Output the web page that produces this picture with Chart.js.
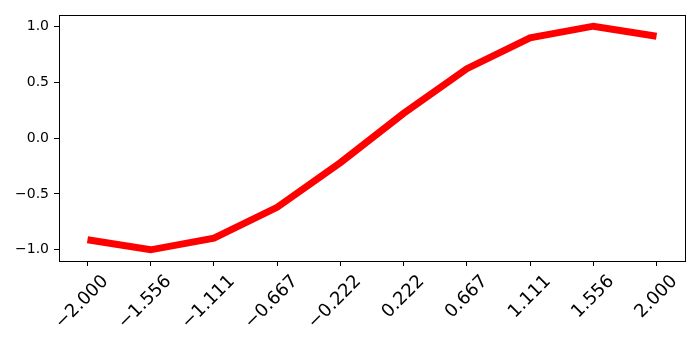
<!DOCTYPE html>
<html>
<head>
<meta charset="utf-8">
<script src="https://cdn.jsdelivr.net/npm/chart.js@4/dist/chart.umd.min.js"></script>
<style>
  html, body { margin: 0; padding: 0; background: #fff; }
  #wrap { width: 700px; height: 350px; }
</style>
</head>
<body>
<div id="wrap"><canvas id="chart" width="700" height="350"></canvas></div>
<script>
(function () {
  "use strict";

  const xVals = [-2.0, -1.556, -1.111, -0.667, -0.222, 0.222, 0.667, 1.111, 1.556, 2.0];
  const yVals = [-0.91, -1.0, -0.895, -0.62, -0.22, 0.22, 0.62, 0.895, 1.0, 0.91];
  const xTickLabels = ["−2.000", "−1.556", "−1.111", "−0.667", "−0.222", "0.222", "0.667", "1.111", "1.556", "2.000"];
  const yTicks = [-1.0, -0.5, 0.0, 0.5, 1.0];

  // full box round the plot area, like the matplotlib spines
  const frame = {
    id: "frame",
    afterDraw(chart) {
      const a = chart.chartArea;
      const ctx = chart.ctx;
      ctx.save();
      ctx.strokeStyle = "#000";
      ctx.lineWidth = 1;
      ctx.strokeRect(Math.round(a.left) + 0.5, Math.round(a.top) + 0.5,
        Math.round(a.right - a.left), Math.round(a.bottom - a.top));
      ctx.restore();
    },
  };

  const ctx = document.getElementById("chart").getContext("2d");
  new Chart(ctx, {
    type: "line",
    data: {
      datasets: [
        {
          data: xVals.map((x, i) => ({ x: x, y: yVals[i] })),
          borderColor: "#ff0000",
          borderWidth: 7,
          pointRadius: 0,
          tension: 0,
          fill: false,
        },
      ],
    },
    options: {
      responsive: false,
      animation: false,
      layout: { padding: { top: 15, right: 15, left: 0, bottom: 0 } },
      plugins: { legend: { display: false }, tooltip: { enabled: false } },
      scales: {
        x: {
          type: "linear",
          min: -2.2,
          max: 2.2,
          afterBuildTicks: (axis) => {
            axis.ticks = xVals.map((v) => ({ value: v }));
          },
          afterFit: (axis) => {
            axis.height = 89;
          },
          ticks: {
            autoSkip: false,
            maxRotation: 45,
            minRotation: 45,
            padding: 5,
            labelOffset: 18,
            color: "#000",
            font: { family: "DejaVu Sans", size: 18 },
            callback: (v, i) => xTickLabels[i],
          },
          grid: {
            drawOnChartArea: false,
            drawTicks: true,
            tickLength: 5,
            tickColor: "#000",
          },
          border: { color: "#000", width: 1 },
        },
        y: {
          min: -1.1,
          max: 1.1,
          afterBuildTicks: (axis) => {
            axis.ticks = yTicks.map((v) => ({ value: v }));
          },
          afterFit: (axis) => {
            axis.width = 59;
          },
          ticks: {
            padding: 5,
            color: "#000",
            font: { family: "DejaVu Sans", size: 14 },
            callback: (v) => (v < 0 ? "−" : "") + Math.abs(v).toFixed(1),
          },
          grid: {
            drawOnChartArea: false,
            drawTicks: true,
            tickLength: 5,
            tickColor: "#000",
          },
          border: { color: "#000", width: 1 },
        },
      },
    },
    plugins: [frame],
  });
})();
</script>
</body>
</html>
